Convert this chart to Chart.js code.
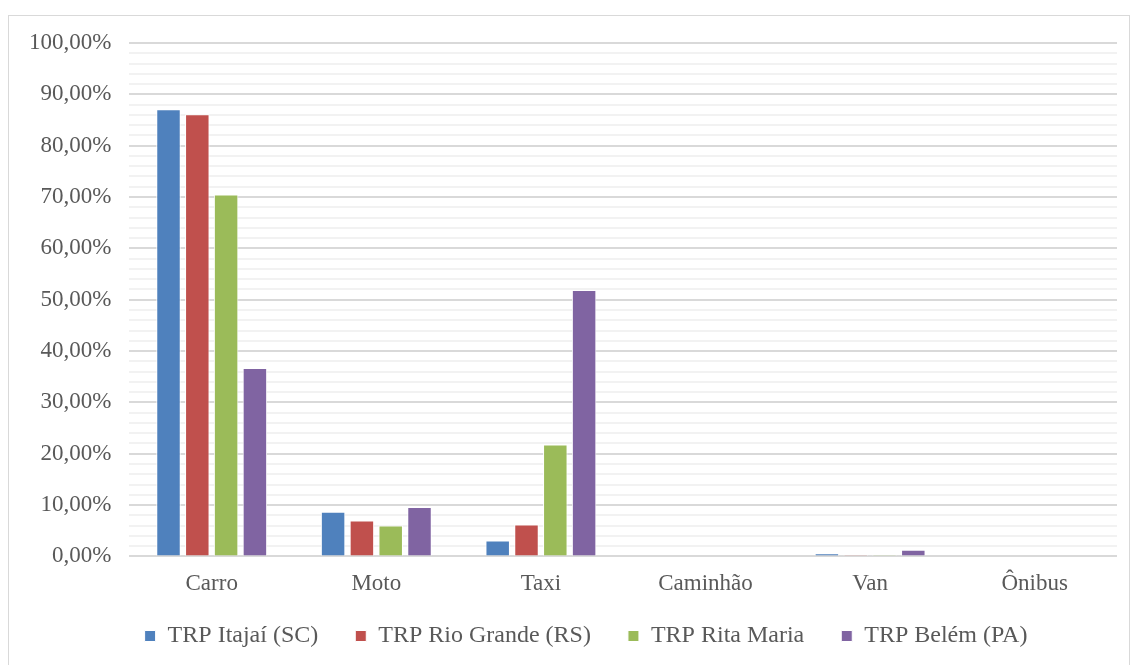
<!DOCTYPE html>
<html lang="pt">
<head>
<meta charset="UTF-8">
<title>Modo de transporte</title>
<script src="https://cdn.jsdelivr.net/npm/chart.js"></script>
<style>
    body { margin: 0; background: #ffffff; }
    #quadro {
        position: absolute;
        left: 8px; top: 15px;
        width: 1122px; height: 660px;
        border: 1px solid #d9d9d9;
        box-sizing: border-box;
    }
    #wrap { position: absolute; left: 0; top: 0; width: 1132px; height: 665px; }
</style>
</head>
<body>
<div id="quadro"></div>
<div id="wrap"><canvas id="grafico"></canvas></div>
<script>
    const categorias = ["Carro", "Moto", "Taxi", "Caminhão", "Van", "Ônibus"];
    const itajai = [87.1, 8.7, 3.1, 0, 0.6, 0];
    const rioGrande = [86.1, 7.0, 6.2, 0, 0.3, 0];
    const ritaMaria = [70.5, 6.0, 21.8, 0, 0.3, 0];
    const belem = [36.7, 9.6, 51.9, 0, 1.3, 0];

    const nomes = ["TRP Itajaí (SC)", "TRP Rio Grande (RS)", "TRP Rita Maria", "TRP Belém (PA)"];
    const cores = ["#4f81bd", "#c0504d", "#9bbb59", "#8064a2"];
    const series = [itajai, rioGrande, ritaMaria, belem];

    const fonte = "Liberation Serif";
    Chart.defaults.font.family = fonte;
    Chart.defaults.font.size = 23;
    Chart.defaults.color = "#595959";
    Chart.defaults.plugins.legend.labels.font = { family: fonte, size: 24 };

    // legenda mais baixa e mais perto do eixo (o padding da legenda serve para os dois sentidos)
    const ajusteLegenda = {
        id: "ajusteLegenda",
        beforeUpdate(chart) {
            const lg = chart.legend;
            if (lg && !lg._ajustado) {
                const fitOriginal = lg.fit;
                lg.fit = function () {
                    fitOriginal.call(this);
                    this.height -= 10;
                };
                lg._ajustado = true;
            }
        },
        afterLayout(chart) {
            chart.legend.top -= 17;
            chart.legend.bottom -= 17;
            chart.legend.left += 22;
            chart.legend.right += 22;
        }
    };

    new Chart(document.getElementById("grafico"), {
        type: "bar",
        data: {
            labels: categorias,
            datasets: series.map((d, i) => ({
                label: nomes[i],
                data: d,
                backgroundColor: cores[i],
                borderColor: "#ffffff",
                borderWidth: 1,
                categoryPercentage: 0.7,
                barPercentage: 0.85
            }))
        },
        plugins: [ajusteLegenda],
        options: {
            responsive: true,
            maintainAspectRatio: false,
            animation: false,
            font: { family: fonte, size: 23 },
            layout: { padding: { left: 11, right: 15, top: 43, bottom: 0 } },
            plugins: {
                tooltip: { enabled: false },
                legend: {
                    position: "bottom",
                    labels: {
                        font: { family: fonte, size: 24 },
                        color: "#595959",
                        boxWidth: 11,
                        boxHeight: 11,
                        padding: 37
                    }
                }
            },
            scales: {
                x: {
                    grid: { display: false },
                    border: { display: false },
                    ticks: {
                        font: { family: fonte, size: 23 },
                        color: "#595959",
                        padding: 6
                    }
                },
                y: {
                    min: 0,
                    max: 100,
                    border: { display: false },
                    grid: {
                        drawTicks: false,
                        lineWidth: 2,
                        color: ctx => (ctx.tick.value % 10 === 0 ? "#d9d9d9" : "#f2f2f2")
                    },
                    ticks: {
                        stepSize: 2,
                        autoSkip: false,
                        padding: 18,
                        font: { family: fonte, size: 23 },
                        color: "#595959",
                        callback: v => (v % 10 === 0 ? v.toFixed(2).replace(".", ",") + "%" : "")
                    }
                }
            }
        }
    });
</script>
</body>
</html>
